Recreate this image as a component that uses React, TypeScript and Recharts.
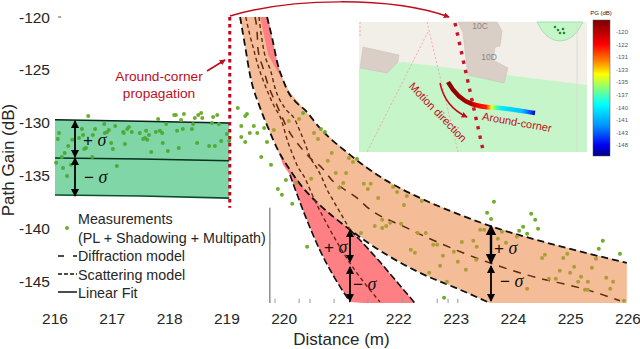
import * as React from "react"
import { ComposedChart, Area, Line, Scatter, XAxis, YAxis, ReferenceLine } from "recharts"

// --- Axis ticks ---
const DISTANCE_TICKS = [216, 217, 218, 219, 220, 221, 222, 223, 224, 225, 226]
const GAIN_TICKS = [-145, -140, -135, -130, -125, -120]
const STUB_TICKS = [219.84, 220.26, 220.45, 220.87, 221.46, 222.06, 222.67, 222.86, 223.03]
const COLORBAR_LABELS = ["-120", "-122", "-131", "-133", "-135", "-137", "-140", "-141", "-143", "-148"]

// --- Linear fit band (216 - 219 m) ---
const fitDistance = [216, 217.5, 219.04]
const fitUpper = [-129.7, -129.85, -130.0]
const fitMiddle = [-133.3, -133.4, -133.56]
const fitLower = [-136.8, -136.9, -137.1]

// --- Orange band (scattering) ---
const orangeDistance = [219.23, 219.32, 219.4, 219.58, 219.72, 219.89, 220.1, 220.36, 220.62, 221.15, 221.79, 222.37, 223.07, 223.59, 224.59, 225.98]
const orangeLower = [-120, -122.83, -125.38, -128.58, -130.47, -132.55, -134.43, -136.32, -137.74, -140.09, -142.45, -144.15, -145.75, -147, -147, -147]
const orangeUpper = [-120, -120, -120, -120, -123.58, -125.19, -127.08, -128.77, -130.47, -133.02, -135.47, -137.08, -138.68, -139.72, -141.32, -143.21]

// --- Red band (diffraction) ---
const redDistance = [219.4, 219.58, 219.72, 219.79, 219.89, 219.98, 220.1, 220.36, 220.62, 220.88, 221.15, 221.37, 221.67, 222.28]
const redLower = [-120, -125, -129.25, -130.7, -132.55, -133.96, -134.9, -138.68, -141.98, -144.62, -146.9, -147, -147, -147]
const redUpper = [-120, -120, -120, -121.98, -124.53, -125.94, -129, -131.89, -134.9, -137.74, -140.09, -141.32, -143.11, -147]

// --- Band edges and model curves ---
const upperEdgeDistance = [219.7, 219.79, 219.89, 219.98, 220.07, 220.22, 220.36, 220.62, 221.15, 221.79, 222.37, 223.07, 223.59, 224.59, 225.98]
const upperEdgeGain = [-120, -121.98, -124.53, -125.94, -127.08, -128.11, -128.77, -130.47, -133.02, -135.47, -137.08, -138.68, -139.72, -141.32, -143.21]

const diffractionDistance = [219.49, 219.53, 219.54, 219.63, 219.72, 219.87, 220.07, 220.28, 220.45, 220.66, 220.83, 221.06, 221.27, 221.44, 222.14, 223.12, 224.11, 225.46, 225.86]
const diffractionGain = [-120, -121.7, -122.92, -124.81, -126.42, -128.3, -130.66, -132.26, -133.3, -134.25, -135.38, -136.32, -137.08, -137.92, -139.91, -142.26, -144.15, -146.04, -146.79]

const scatterLeftDistance = [219.33, 219.4, 219.46, 219.54, 219.63, 219.72, 219.84, 219.93, 220.07, 220.15, 220.24, 220.36, 220.49, 220.8, 221.11, 221.67]
const scatterLeftGain = [-120, -121.7, -122.92, -124.53, -125.94, -127.17, -128.58, -129.43, -131.89, -133.02, -134.15, -135.19, -136.79, -140.09, -142.92, -146.89]

const scatterRightDistance = [219.56, 219.6, 219.65, 219.77, 219.84, 220.01, 220.19, 220.28, 220.36, 220.45, 220.57, 220.66, 220.75, 220.83, 221.15]
const scatterRightGain = [-120, -121.7, -123.3, -125.19, -126.7, -128.58, -129.72, -130.85, -131.89, -133.21, -134.25, -135.19, -136.32, -137.08, -140.09]

// --- Measurements: [distance, gain] ---
const measurementsClear = [
  [216.58, -129.34], [217.8, -129.62], [218.08, -129.25], [218.11, -129.25], [218.25, -129.15], [218.2, -129.72],
  [218.44, -129.53], [218.5, -129.25], [218.55, -129.06], [218.57, -129.53], [218.76, -129.43], [218.83, -129.25],
  [219.19, -128.58], [219.35, -129.15], [219.32, -129.34], [219.25, -130.28], [219.47, -130.28], [219.65, -130.47],
  [219.4, -130.94], [219.53, -130.94], [219.25, -131.32], [219.32, -131.79], [219.7, -131.79], [219.6, -133.21],
  [219.77, -133.96], [220.03, -135.38], [219.89, -136.23], [219.96, -136.79], [220.14, -137.64], [220.4, -141.7],
  [220.33, -129.06], [220.64, -130.57], [220.71, -130.85], [221.27, -133.4], [222.79, -146.51], [223.66, -137.45],
  [223.54, -138.49], [223.61, -139.06], [224.1, -140.19], [224.17, -139.81], [224.24, -140.47], [224.31, -138.58],
  [224.38, -139.15], [224.43, -140], [225.49, -141.89], [225.56, -141.13], [225.86, -142.36],
]

const measurementsOnFit = [
  [216.07, -130.94], [216.47, -130.57], [216.7, -130.57], [216.49, -131.13], [216.66, -131.13], [216.05, -131.51],
  [216.3, -131.6], [216.42, -131.42], [216.91, -130.85], [216.94, -130.66], [216.87, -130.94], [217.05, -130.28],
  [216.86, -130.09], [217.19, -130.85], [217.2, -130.94], [217.26, -130.57], [217.29, -130.38], [217.34, -130.85],
  [217.48, -130.94], [217.59, -130.75], [217.64, -131.13], [217.54, -131.51], [217.57, -131.42], [217.61, -131.6],
  [217.76, -130.85], [217.83, -130.75], [217.87, -130.94], [217.88, -131.89], [217.97, -132.64], [217.68, -132.74],
  [217.22, -131.98], [216.98, -131.89], [217.01, -132.45], [216.54, -132.36], [216.51, -132.45], [216.23, -132.17],
  [216.17, -132.83], [216.12, -133.21], [216.65, -133.21], [216.02, -133.77], [216.14, -134.25], [216.28, -133.96],
  [216.21, -135], [217.08, -134.06], [217.94, -130.09], [218.41, -130.09], [218.74, -130], [218.86, -130.09],
  [218.13, -130.75], [218.23, -130.57], [218.39, -130.57], [219, -131.04], [219.04, -131.7], [218.48, -131.89],
  [218.9, -131.7], [218.69, -132.17], [218.79, -132.17], [218.16, -132.36],
]

const measurementsOnOrange = [
  [219.82, -130.66], [220.08, -129.81], [220.26, -129.62], [220.52, -130.94], [220.59, -131.51], [220.83, -132.83],
  [220.76, -133.58], [221.13, -133.3], [221.2, -133.68], [220.9, -134.72], [221.08, -134.72], [220.47, -135.28],
  [221.03, -135.66], [220.96, -136.13], [221.39, -135.75], [221.51, -135.75], [221.46, -136.23], [221.64, -137.08],
  [221.9, -136.04], [221.97, -136.51], [222.14, -136.89], [222.09, -137.74], [221.71, -139.15], [221.58, -139.72],
  [221.71, -139.91], [221.78, -139.72], [221.85, -139.43], [222.04, -139.53], [221.34, -140.38], [222.33, -140.38],
  [222.47, -140.38], [222.21, -141.98], [222.28, -142.26], [222.4, -137.36], [222.53, -144.15], [222.84, -145],
  [222.6, -141.51], [222.67, -141.51], [222.77, -142.55], [222.72, -143.49], [222.96, -142.17], [223.03, -143.11],
  [223.17, -143.87], [223.1, -141.23], [223.3, -141.13], [223.36, -141.7], [223.35, -142.92], [223.42, -140.09],
  [223.49, -140.09], [223.8, -140.28], [223.73, -140.94], [223.87, -141.32], [224.06, -140.75], [224.24, -145.66],
  [224.5, -142.74], [224.55, -142.45], [224.62, -144.72], [224.74, -144.72], [224.81, -143.96], [224.87, -142.74],
  [224.94, -142.36], [224.99, -144.15], [225.06, -143.58], [225.13, -145], [225.18, -144.53], [225.3, -145],
  [225.25, -145.75], [225.3, -145.75], [225.37, -143.68], [225.44, -142.83], [225.62, -144.62], [225.74, -145],
  [225.69, -145.66], [225.93, -146.79], [220.21, -135.66],
]

// --- Table builders ---
const toBand = (d: number[], lo: number[], hi: number[]) => d.map((x, i) => ({ d: x, range: [lo[i], hi[i]] }))
const toCurve = (d: number[], g: number[]) => d.map((x, i) => ({ d: x, v: g[i] }))
const toPoints = (pts: number[][]) => pts.map(([d, v]) => ({ d, v }))

const dot = (fill: string) => (p: any) => <circle cx={p.cx} cy={p.cy} r={2} fill={fill} />

const TEXT = "#262626"
const RED = "#c00d1e"
const EDGE = "#111111"
const SANS = "'Liberation Sans', Arial, sans-serif"

const Sigma = ({ x, y, sign }: { x: number; y: number; sign: string }) => (
  <g fill="#111">
    <text x={x} y={y} fontFamily={SANS} fontSize={17} textAnchor="middle" dominantBaseline="central">{sign}</text>
    <text x={x + 14} y={y} fontFamily="'Liberation Serif', serif" fontStyle="italic" fontSize={18} textAnchor="middle" dominantBaseline="central">σ</text>
  </g>
)

const Arrow = ({ x, y1, y2, w = 1.8 }: { x: number; y1: number; y2: number; w?: number }) => (
  <line x1={x} x2={x} y1={y1} y2={y2} stroke="#000" strokeWidth={w} markerStart="url(#blackHead)" markerEnd="url(#blackHead)" />
)

// Inset map and annotations sit on top of the plot
const Overlay = () => (
  <svg width={640} height={349} style={{ position: "absolute", left: 0, top: 0, pointerEvents: "none" }}>
    <defs>
      <marker id="blackHead" viewBox="0 0 8 8" refX="7" refY="4" markerWidth="4.5" markerHeight="5" orient="auto-start-reverse">
        <path d="M0 0L8 4L0 8Z" fill="#000" />
      </marker>
      <marker id="redHead" viewBox="0 0 8 8" refX="7" refY="4" markerWidth="6" markerHeight="6" orient="auto" markerUnits="userSpaceOnUse">
        <path d="M0 0L8 4L0 8Z" fill={RED} />
      </marker>
      <linearGradient id="jet" x1="0" y1="0" x2="0" y2="1">
        <stop offset="0" stopColor="#7a0000" />
        <stop offset="0.1" stopColor="#c00000" />
        <stop offset="0.18" stopColor="#ff0000" />
        <stop offset="0.3" stopColor="#ff8000" />
        <stop offset="0.4" stopColor="#ffff00" />
        <stop offset="0.52" stopColor="#70ff90" />
        <stop offset="0.62" stopColor="#00ffff" />
        <stop offset="0.78" stopColor="#0090ff" />
        <stop offset="0.92" stopColor="#0000f0" />
        <stop offset="1" stopColor="#000080" />
      </linearGradient>
      <linearGradient id="track" gradientUnits="userSpaceOnUse" x1={448} y1={0} x2={535} y2={0}>
        <stop offset="0" stopColor="#8b0000" />
        <stop offset="0.25" stopColor="#a80000" />
        <stop offset="0.33" stopColor="#f00000" />
        <stop offset="0.44" stopColor="#ff2000" />
        <stop offset="0.47" stopColor="#ff9000" />
        <stop offset="0.5" stopColor="#e8ff20" />
        <stop offset="0.56" stopColor="#40ffb0" />
        <stop offset="0.62" stopColor="#00e8ff" />
        <stop offset="0.85" stopColor="#00c0ff" />
        <stop offset="0.93" stopColor="#0060ff" />
        <stop offset="1" stopColor="#0000c0" />
      </linearGradient>
    </defs>

    {/* y axis stub */}
    <line x1={58} x2={61} y1={17} y2={17} stroke="#555" />

    {/* around-corner annotation */}
    <path d="M230 16 C 290 -2, 390 -4, 449 17" fill="none" stroke={RED} strokeWidth={1.5} markerEnd="url(#redHead)" />
    <line x1={207} y1={71} x2={225} y2={60} stroke={RED} strokeWidth={1.6} markerEnd="url(#redHead)" />
    <text x={159} y={76} fill={RED} fontFamily={SANS} fontSize={13.7} textAnchor="middle" dominantBaseline="central">Around-corner</text>
    <text x={159} y={93} fill={RED} fontFamily={SANS} fontSize={13.7} textAnchor="middle" dominantBaseline="central">propagation</text>

    {/* sigma arrows */}
    <Arrow x={75} y1={121} y2={157} />
    <Arrow x={75} y1={158} y2={196} />
    <Sigma x={88} y={140} sign="+" />
    <Sigma x={89} y={177} sign="−" />
    <Arrow x={350} y1={230} y2={262} />
    <Arrow x={350} y1={267} y2={301} />
    <Sigma x={329} y={247} sign="+" />
    <Sigma x={358} y={284} sign="−" />
    <Arrow x={491} y1={226} y2={263} w={2.4} />
    <Arrow x={491} y1={266} y2={301} w={1.8} />
    <Sigma x={499} y={248} sign="+" />
    <Sigma x={505} y={281} sign="−" />

    {/* legend */}
    <circle cx={67} cy={228} r={2} fill="#6fae2c" />
    <line x1={58} x2={64} y1={256} y2={256} stroke="#111" strokeWidth={1.5} />
    <line x1={73} x2={77} y1={256} y2={256} stroke="#111" strokeWidth={1.5} />
    <line x1={58} x2={77} y1={274} y2={274} stroke="#111" strokeWidth={1.5} strokeDasharray="4 2" />
    <line x1={58} x2={77} y1={292} y2={292} stroke="#111" strokeWidth={1.5} />
    {[
      ["Measurements", 219],
      ["(PL + Shadowing + Multipath)", 238],
      ["Diffraction model", 256],
      ["Scattering model", 275],
      ["Linear Fit", 293],
    ].map(([label, y]) => (
      <text key={label as string} x={78} y={y as number} fill={TEXT} fontFamily={SANS} fontSize={14.3} dominantBaseline="central">{label}</text>
    ))}

    {/* inset map */}
    <rect x={359} y={22} width={228} height={130} fill="#f2efe9" />
    <polygon points="359,68 403,62 587,85 587,152 359,152" fill="#c5f5c8" />
    <polygon points="363,47 399,55 398,62 387,73 360,68" fill="#d9cfc7" stroke="#c8bdb5" strokeWidth={0.5} />
    <polygon points="458,22 497,22 502,31 500,46 495,47 493,60 508,68 504,83 468,75 467,68 463,33" fill="#d9cfc7" stroke="#c8bdb5" strokeWidth={0.5} />
    <path d="M537 22 Q 546 41 560 41 Q 574 41 583 22 Z" fill="#c5f5c8" stroke="#a8e0b0" />
    {[[555, 27], [558, 30], [560, 33], [564, 33], [563, 29]].map(([cx, cy]) => (
      <circle key={cx} cx={cx} cy={cy} r={1.3} fill="#1f8a3a" />
    ))}
    <line x1={577} x2={577} y1={22} y2={152} stroke="#dedbd2" />
    <g fill="none" stroke="#f4a8a8" strokeWidth={1} strokeDasharray="2 2">
      <line x1={360} y1={22} x2={360} y2={36} />
      <line x1={427} y1={22} x2={458} y2={152} />
      <line x1={428} y1={32} x2={367} y2={152} />
    </g>
    <text x={480} y={26} fontFamily={SANS} fontSize={8.5} fill="#8a8580" textAnchor="middle" dominantBaseline="central">10C</text>
    <text x={489} y={57} fontFamily={SANS} fontSize={8.5} fill="#8a8580" textAnchor="middle" dominantBaseline="central">10D</text>
    <line x1={455} y1={23} x2={483} y2={150} stroke="#c81428" strokeWidth={3.4} strokeDasharray="3.4 6.2" />
    <path d="M448 82 C 453 91, 460 100, 472 104 S 490 107, 500 108 S 522 111, 535 113" fill="none" stroke="url(#track)" strokeWidth={4.5} />
    <path d="M440 83 Q 445 107 467 117" fill="none" stroke={RED} strokeWidth={1.5} markerEnd="url(#redHead)" />
    <text x={438} y={112} fill={RED} fontFamily={SANS} fontSize={11} textAnchor="middle" dominantBaseline="central" transform="rotate(46 438 112)">Motion direction</text>
    <text x={517} y={122} fill={RED} fontFamily={SANS} fontSize={11} textAnchor="middle" dominantBaseline="central" transform="rotate(10 517 122)">Around-corner</text>

    {/* colorbar */}
    <text x={601} y={13} fontFamily={SANS} fontSize={6} fill="#222" textAnchor="middle" dominantBaseline="central">PG (dB)</text>
    <rect x={593} y={20} width={17} height={136} fill="url(#jet)" stroke="#555" strokeWidth={0.5} />
    {COLORBAR_LABELS.map((label, i) => (
      <text key={label} x={622} y={32 + i * 12.6} fontFamily={SANS} fontSize={6} fill="#555" textAnchor="middle" dominantBaseline="central">{label}</text>
    ))}
  </svg>
)

export default function App() {
  return (
    <div style={{ position: "absolute", left: 0, top: 0, width: 640, height: 349, background: "#fff" }}>
      <ComposedChart width={640} height={349} margin={{ top: 17, right: 12, bottom: 0, left: 0 }}>
        <XAxis
          type="number"
          dataKey="d"
          domain={[216, 226]}
          ticks={DISTANCE_TICKS}
          interval={0}
          axisLine={false}
          tickLine={false}
          height={46}
          tickMargin={4}
          tick={{ fill: TEXT, fontSize: 15.5, fontFamily: SANS }}
          label={{ value: "Distance (m)", position: "insideBottom", dy: 1, fill: TEXT, fontSize: 17, fontFamily: SANS }}
          allowDuplicatedCategory={false}
        />
        <YAxis
          type="number"
          domain={[-147, -120]}
          ticks={GAIN_TICKS}
          interval={0}
          width={55}
          axisLine={false}
          tickLine={false}
          tickSize={5}
          tickMargin={0}
          tick={{ fill: TEXT, fontSize: 15.5, fontFamily: SANS }}
          label={{ value: "Path Gain (dB)", angle: -90, position: "insideLeft", dx: 3, fill: TEXT, fontSize: 17, fontFamily: SANS, style: { textAnchor: "middle" } }}
        />

        <ReferenceLine segment={[{ x: 219.75, y: -138 }, { x: 219.75, y: -147 }]} stroke="#555" strokeWidth={1} />
        {STUB_TICKS.map((t) => (
          <ReferenceLine key={t} segment={[{ x: t, y: -147 }, { x: t, y: -146.6 }]} stroke="#999" />
        ))}

        {/* linear fit */}
        <Area data={toBand(fitDistance, fitLower, fitUpper)} dataKey="range" type="linear" fill="#80d6a6" fillOpacity={1} stroke="none" isAnimationActive={false} />
        <Line data={toCurve(fitDistance, fitUpper)} dataKey="v" stroke="#06201a" strokeWidth={1.5} dot={false} isAnimationActive={false} />
        <Line data={toCurve(fitDistance, fitMiddle)} dataKey="v" stroke="#06301f" strokeWidth={1.5} dot={false} isAnimationActive={false} />
        <Line data={toCurve(fitDistance, fitLower)} dataKey="v" stroke="#0b4d2a" strokeWidth={1.6} dot={false} isAnimationActive={false} />

        {/* model bands */}
        <Area data={toBand(redDistance, redLower, redUpper)} dataKey="range" type="linear" fill="#fe7f84" fillOpacity={1} stroke="none" isAnimationActive={false} />
        <Area data={toBand(orangeDistance, orangeLower, orangeUpper)} dataKey="range" type="linear" fill="#f5bd97" fillOpacity={1} stroke="none" isAnimationActive={false} />

        {/* edges */}
        <Line data={toCurve(orangeDistance, orangeLower).slice(0, 14)} dataKey="v" type="monotone" stroke={EDGE} strokeWidth={1.8} strokeDasharray="7 4" dot={false} isAnimationActive={false} />
        <Line data={toCurve(upperEdgeDistance, upperEdgeGain)} dataKey="v" type="monotone" stroke={EDGE} strokeWidth={1.8} strokeDasharray="7 4" dot={false} isAnimationActive={false} />
        <Line data={toCurve(redDistance, redLower).slice(6, 11)} dataKey="v" type="monotone" stroke={EDGE} strokeWidth={1.6} strokeDasharray="7 3" dot={false} isAnimationActive={false} />
        <Line data={toCurve(redDistance, redUpper).slice(10)} dataKey="v" type="linear" stroke={EDGE} strokeWidth={1.6} strokeDasharray="7 3" dot={false} isAnimationActive={false} />

        {/* model curves */}
        <Line data={toCurve(diffractionDistance, diffractionGain)} dataKey="v" type="monotone" stroke="#5a2a12" strokeWidth={1.5} strokeDasharray="8 7" dot={false} isAnimationActive={false} />
        <Line data={toCurve(scatterLeftDistance, scatterLeftGain)} dataKey="v" type="monotone" stroke="#6b2418" strokeWidth={1.4} strokeDasharray="4 3" dot={false} isAnimationActive={false} />
        <Line data={toCurve(scatterRightDistance, scatterRightGain)} dataKey="v" type="monotone" stroke="#5a2a12" strokeWidth={1.4} strokeDasharray="4 3" dot={false} isAnimationActive={false} />

        {/* around-corner boundary */}
        <ReferenceLine segment={[{ x: 219.05, y: -120 }, { x: 219.05, y: -138 }]} stroke="#c8001a" strokeWidth={3} strokeDasharray="3.5 3.5" />

        <Scatter data={toPoints(measurementsOnFit)} dataKey="v" shape={dot("#4faa3c")} isAnimationActive={false} />
        <Scatter data={toPoints(measurementsOnOrange)} dataKey="v" shape={dot("#ab9e38")} isAnimationActive={false} />
        <Scatter data={toPoints(measurementsClear)} dataKey="v" shape={dot("#6fae2c")} isAnimationActive={false} />
      </ComposedChart>
      <Overlay />
    </div>
  )
}
